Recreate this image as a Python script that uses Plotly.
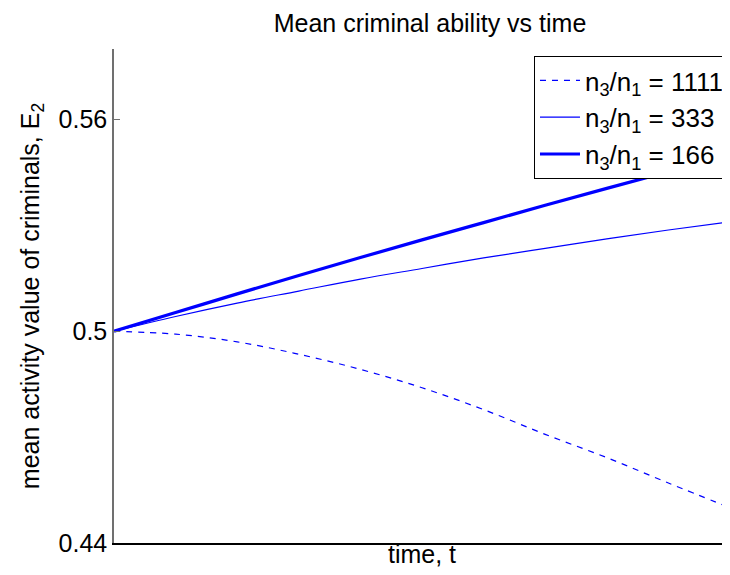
import plotly.graph_objects as go

t = [0.0, 0.1, 0.2, 0.3, 0.4, 0.5, 0.6, 0.7, 0.8, 0.9, 1.0]
e2_1111 = [0.5, 0.4992, 0.4970, 0.4935, 0.4892, 0.4840, 0.4778, 0.4708, 0.4642, 0.4570, 0.4500]
e2_333 = [0.5, 0.5042, 0.5080, 0.5114, 0.5148, 0.5178, 0.5208, 0.5235, 0.5262, 0.5287, 0.5310]
e2_166 = [0.5, 0.5053, 0.5106, 0.5158, 0.5209, 0.5259, 0.5308, 0.5357, 0.5405, 0.5452, 0.5498]
names = ["n<sub>3</sub>/n<sub>1</sub> = 1111", "n<sub>3</sub>/n<sub>1</sub> = 333", "n<sub>3</sub>/n<sub>1</sub> = 166"]
ytickvals = [0.44, 0.5, 0.56]
yticktext = ["0.44", "0.5", "0.56"]

FONT = "Liberation Sans, Arial, Helvetica, sans-serif"
BLUE = "#0000ff"
FS = 25

fig = go.Figure()
fig.add_trace(go.Scatter(x=t, y=e2_1111, mode="lines", name=names[0], line_shape="spline",
                         line=dict(color=BLUE, width=1.2, dash="6px,6px")))
fig.add_trace(go.Scatter(x=t, y=e2_333, mode="lines", name=names[1], line_shape="spline",
                         line=dict(color=BLUE, width=1.2)))
fig.add_trace(go.Scatter(x=t, y=e2_166, mode="lines", name=names[2], line_shape="spline",
                         line=dict(color=BLUE, width=3.2)))

fig.update_layout(
    width=730, height=575,
    margin=dict(l=106, r=8, t=41, b=40, autoexpand=False),
    paper_bgcolor="white", plot_bgcolor="white",
    font=dict(family=FONT, size=FS, color="black"),
    title=dict(text="Mean criminal ability vs time", x=422 / 730, xanchor="center",
               y=1 - 15 / 575, yanchor="middle", font=dict(size=FS)),
    showlegend=True,
    legend=dict(x=0.6818, y=0.9858, xanchor="left", yanchor="top",
                bgcolor="white", bordercolor="black", borderwidth=1,
                font=dict(size=26), tracegroupgap=0, itemwidth=40),
    xaxis=dict(range=[0, 1], showticklabels=False, ticks="", showgrid=False, zeroline=False,
               showline=True, linecolor="black", linewidth=1.5,
               title=dict(text="time, t", standoff=2, font=dict(size=FS))),
    yaxis=dict(range=[0.44, 0.58], tickvals=ytickvals, ticktext=yticktext, ticks="inside",
               ticklen=6, tickcolor="#707070", showgrid=False, zeroline=False,
               showline=True, linecolor="#707070", linewidth=1.5,
               tickfont=dict(size=FS),
               title=dict(text="mean activity value of criminals, E<sub>2</sub>", standoff=12,
                          font=dict(size=FS))),
)

fig.write_html("out.html")
